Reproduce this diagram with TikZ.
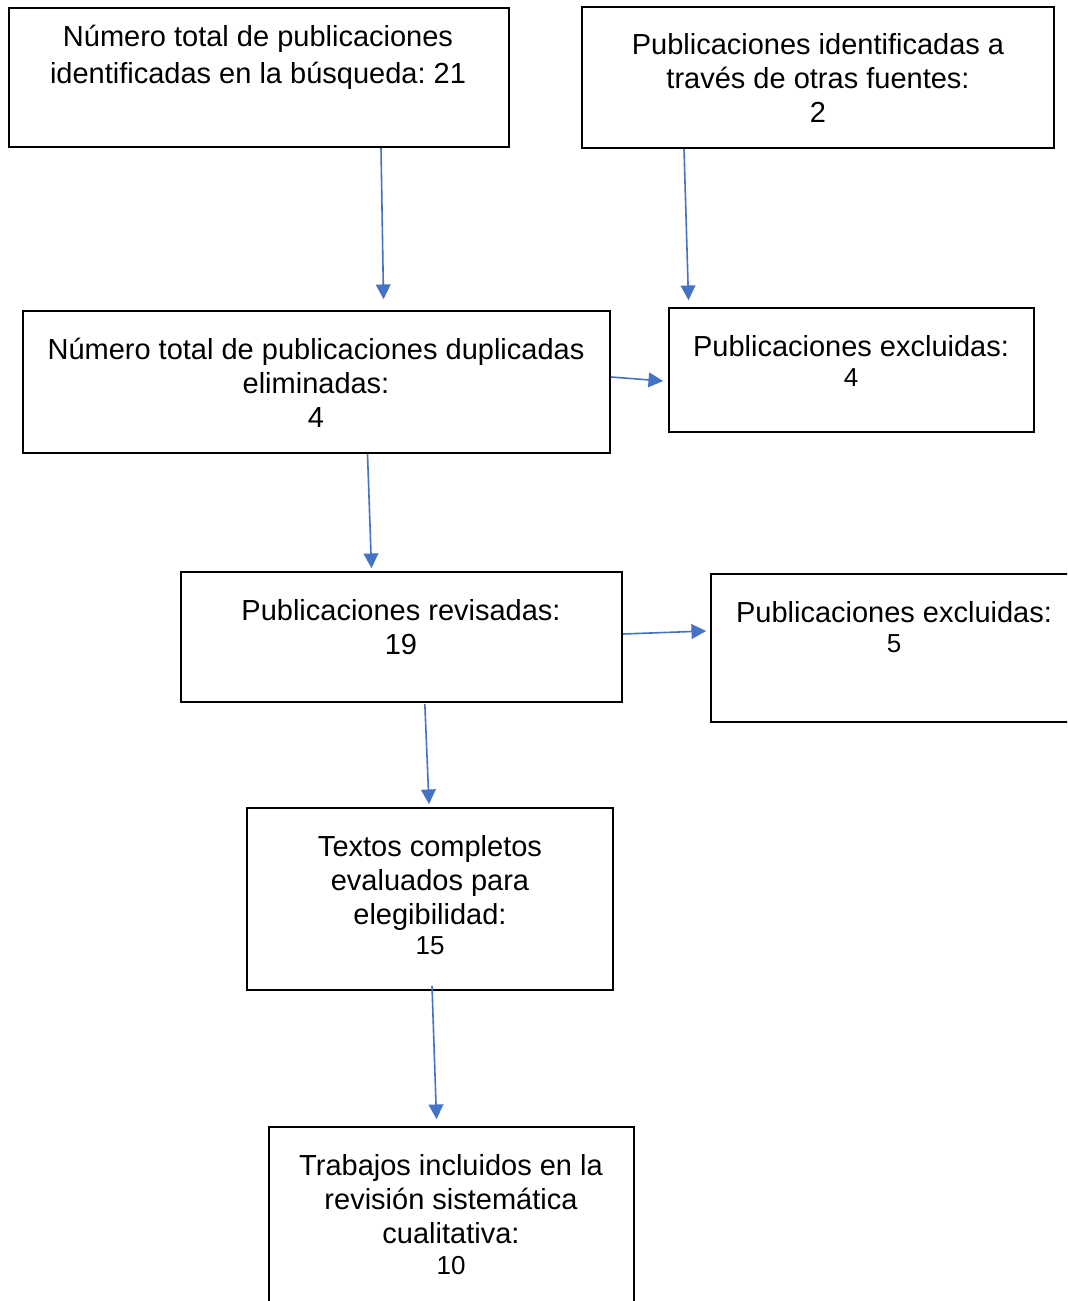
\documentclass[tikz,border=0pt]{standalone}
\usepackage{fontspec}
\setmainfont{Liberation Sans}
\usetikzlibrary{arrows.meta,calc}
\definecolor{arrowblue}{HTML}{4472C4}
\frenchspacing
\tikzset{
  box/.style={draw=black, line width=1.3pt, rectangle, inner sep=0pt, fill=white},
  txt/.style={align=center, inner sep=0pt, anchor=north, font=\fontsize{21.75}{25.5}\selectfont},
  conn/.style={draw=arrowblue, line width=1.2pt, -{Triangle[length=11pt,width=11pt]}}
}
\newcommand{\smallnum}[1]{{\fontsize{19.5}{20}\selectfont #1}}
\begin{document}
\begin{tikzpicture}[x=0.75pt,y=-0.75pt]
\useasboundingbox (0,0) rectangle (1067,1301);
\clip (0,0) rectangle (1067,1301);
\fill[white] (0,0) rectangle (1067,1301);
% boxes
\node[box, minimum width=375pt, minimum height=104.25pt] (b1) at (259,77.5) {};
\node[box, minimum width=354pt, minimum height=105.75pt] (b2) at (818,77.5) {};
\node[box, minimum width=440.25pt, minimum height=106.5pt] (b3) at (316.5,382) {};
\node[box, minimum width=273.75pt, minimum height=93pt] (b4) at (851.5,370) {};
\node[box, minimum width=330.75pt, minimum height=97.5pt] (b5) at (401.5,637) {};
\node[box, minimum width=285pt, minimum height=111pt] (b6) at (901,648) {};
\node[box, minimum width=274.5pt, minimum height=136.5pt] (b7) at (430,899) {};
\node[box, minimum width=273.75pt, minimum height=150pt] (b8) at (451.5,1227) {};
% texts
\node[txt, font=\fontsize{21.75}{27.75}\selectfont] (t1) at (258,25) {Número total de publicaciones\\identificadas en la búsqueda: 21};
\node[txt] (t2) at (818,33) {Publicaciones identificadas a\\través de otras fuentes:\\2};
\node[txt] (t3) at (316,338) {Número total de publicaciones duplicadas\\eliminadas:\\4};
\node[txt] (t4) at (851,335) {Publicaciones excluidas:\\[-2.5pt]\smallnum{4}};
\node[txt] (t5) at (401,599) {Publicaciones revisadas:\\19};
\node[txt] (t6) at (894,601) {Publicaciones excluidas:\\[-2.5pt]\smallnum{5}};
\node[txt] (t7) at (430,835) {Textos completos\\evaluados para\\elegibilidad:\\[-2.5pt]\smallnum{15}};
\node[txt] (t8) at (451,1154) {Trabajos incluidos en la\\revisión sistemática\\cualitativa:\\[-2pt]\smallnum{10}};
% connectors
\draw[conn] ([xshift=91.5pt]b1.south) -- ([xshift=50.25pt,yshift=8.25pt]b3.north);
\draw[conn] ([xshift=-100.5pt]b2.south) -- ([xshift=-122.25pt,yshift=5.25pt]b4.north);
\draw[conn] ([yshift=3.75pt]b3.east) -- ([xshift=-3.75pt,yshift=-8.25pt]b4.west);
\draw[conn] ([xshift=38.25pt]b3.south) -- ([xshift=-22.5pt,yshift=2.25pt]b5.north);
\draw[conn] ([yshift=2.25pt]b5.east) -- ([xshift=-3pt,yshift=12.75pt]b6.west);
\draw[conn] ([xshift=17.5pt,yshift=-1pt]b5.south) -- ([xshift=-0.75pt,yshift=2.25pt]b7.north);
\draw[conn] ([xshift=1.5pt,yshift=3.75pt]b7.south) -- ([xshift=-11.25pt,yshift=5.25pt]b8.north);
\end{tikzpicture}
\end{document}
